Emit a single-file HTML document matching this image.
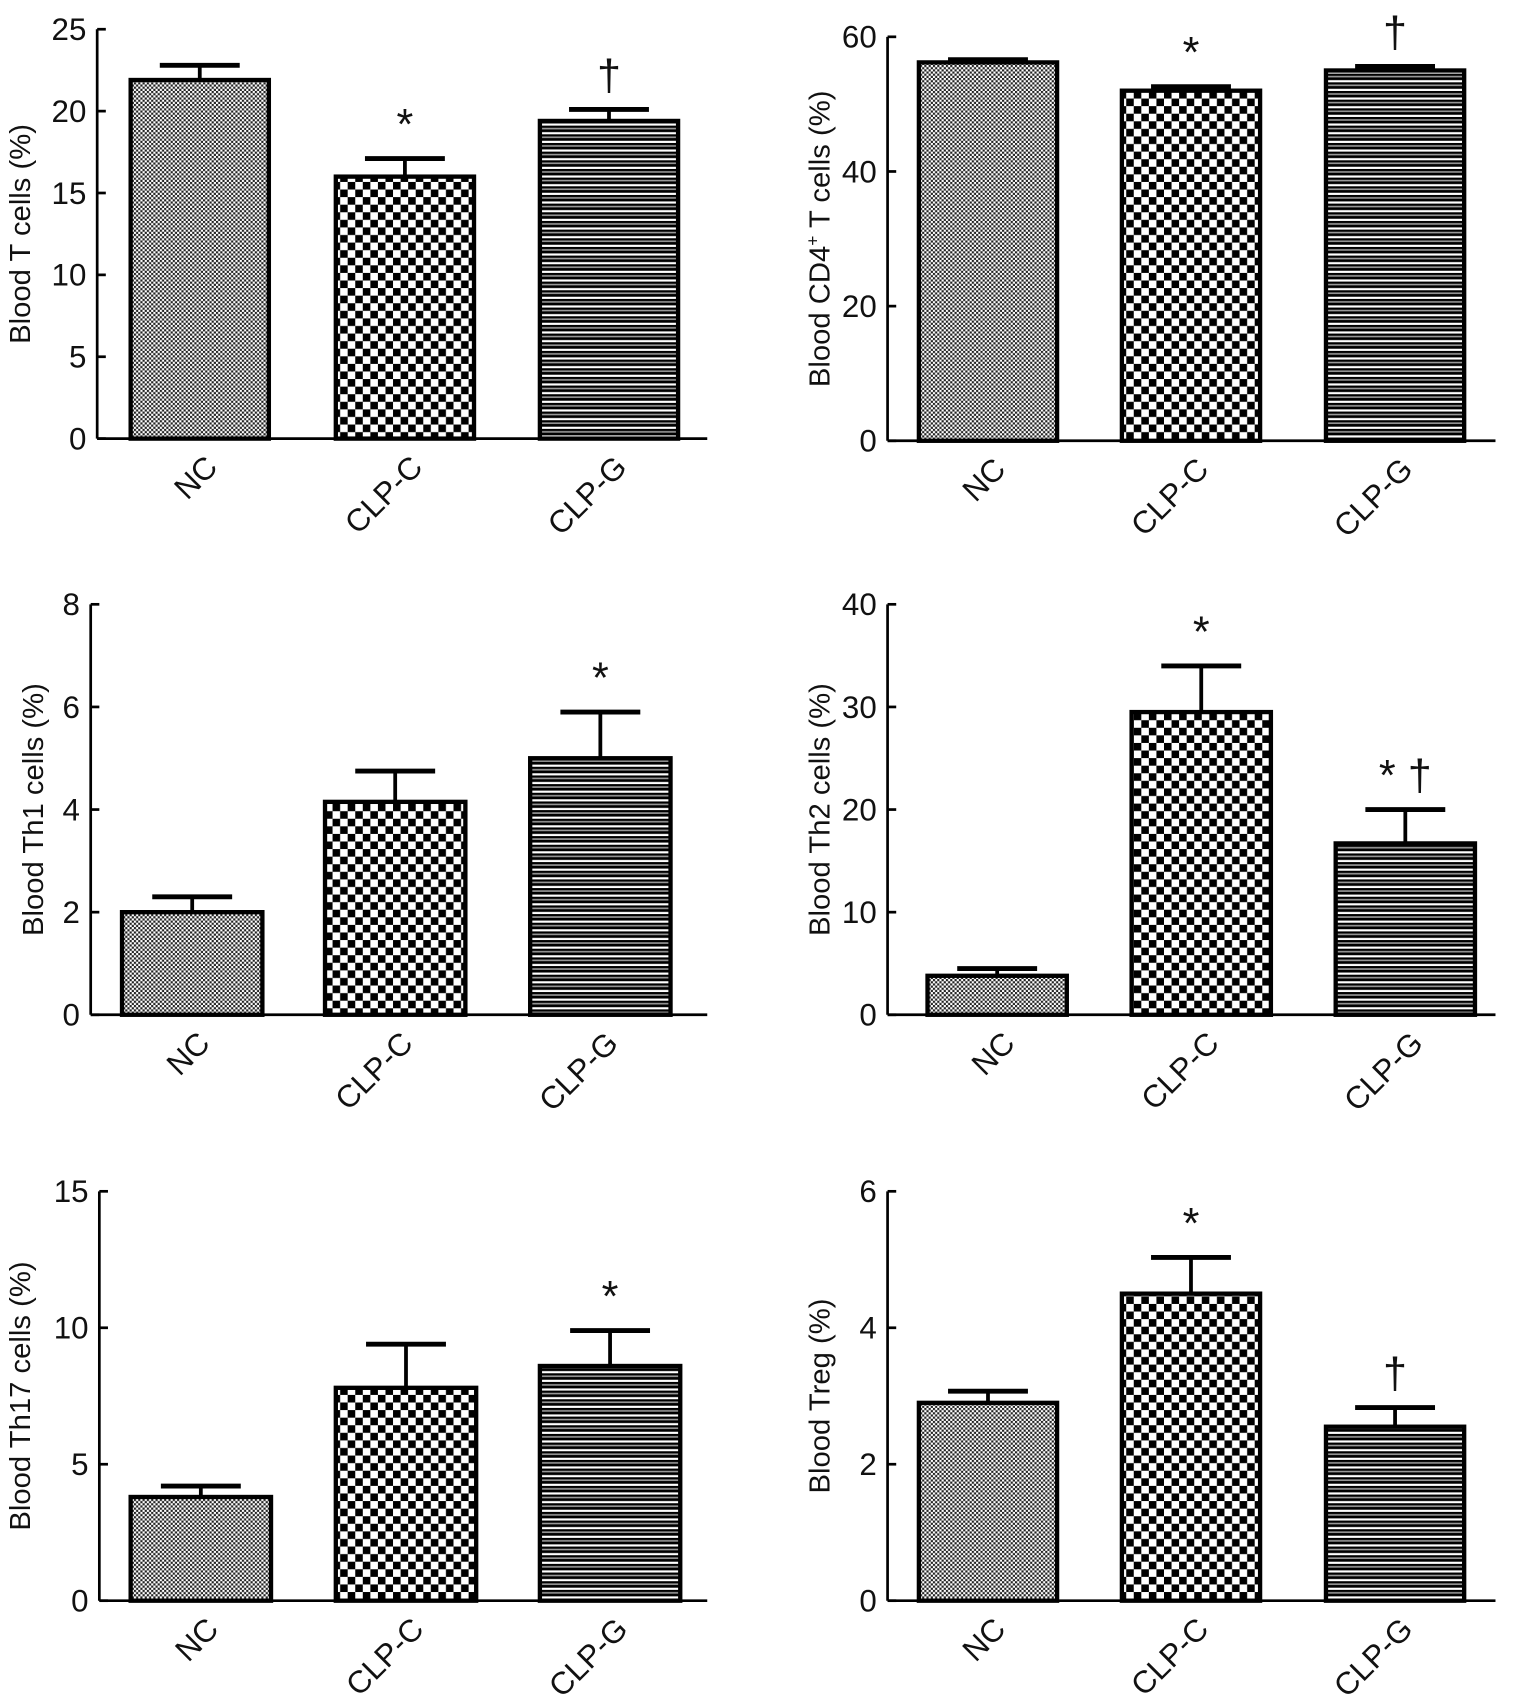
<!DOCTYPE html>
<html><head><meta charset="utf-8"><style>
html,body{margin:0;padding:0;background:#fff;}
svg{display:block;}
text{font-family:"Liberation Sans",Arial,sans-serif;fill:#111;}
</style></head><body>
<svg id="fig" width="1516" height="1696" viewBox="0 0 1404 1566" preserveAspectRatio="none" xmlns="http://www.w3.org/2000/svg">
<defs>
<pattern id="pNC" width="4" height="4" patternUnits="userSpaceOnUse"><rect width="4" height="4" fill="#fff"/><rect width="2" height="2" fill="#222"/><rect x="2" y="2" width="2" height="2" fill="#222"/></pattern>
<pattern id="pC" width="14" height="14" patternUnits="userSpaceOnUse"><rect width="14" height="14" fill="#fff"/><rect width="7" height="7" fill="#000"/><rect x="7" y="7" width="7" height="7" fill="#000"/></pattern>
<pattern id="pG" width="8" height="8" patternUnits="userSpaceOnUse"><rect width="8" height="8" fill="#000"/><rect y="2" width="8" height="2" fill="#fff"/><rect y="6" width="8" height="1.5" fill="#999"/></pattern>
</defs>
</svg>
<script>
const categories = ["NC","CLP-C","CLP-G"];
const titles = ["Blood T cells (%)","Blood CD4+ T cells (%)","Blood Th1 cells (%)","Blood Th2 cells (%)","Blood Th17 cells (%)","Blood Treg (%)"];
const means = [[21.9,16.0,19.4],[56.2,52.0,55.0],[2.0,4.15,5.0],[3.8,29.5,16.7],[3.8,7.8,8.6],[2.9,4.5,2.55]];
const errs = [[0.9,1.1,0.7],[0.4,0.6,0.6],[0.3,0.6,0.9],[0.7,4.5,3.3],[0.4,1.6,1.3],[0.17,0.53,0.28]];
const yMaxes = [25,60,8,40,15,6];
const tickSteps = [5,20,2,10,5,2];
const marks = [["","*","†"],["","*","†"],["","","*"],["","*","* †"],["","","*"],["","*","†"]];
// layout
const panels = [
 {ax:90,top:27,zero:405,xend:655,bx:[121,311,500],bw:128,lx:12},
 {ax:822,top:34,zero:407,xend:1385,bx:[851,1039,1228],bw:128,lx:752},
 {ax:84,top:558,zero:937,xend:655,bx:[113,301,491],bw:130,lx:24},
 {ax:822,top:558,zero:937,xend:1385,bx:[859,1048,1237],bw:129,lx:752},
 {ax:92,top:1100,zero:1478,xend:655,bx:[121,311,500],bw:130,lx:12},
 {ax:822,top:1100,zero:1478,xend:1385,bx:[851,1039,1228],bw:128,lx:752}
];
const fills=["url(#pNC)","url(#pC)","url(#pG)"];
const svg=document.getElementById('fig');
const NS="http://www.w3.org/2000/svg";
function mk(tag,attrs,parent){const e=document.createElementNS(NS,tag);for(const k in attrs)e.setAttribute(k,attrs[k]);(parent||svg).appendChild(e);return e;}
panels.forEach((p,i)=>{
 const g=mk('g',{});
 
 
 const y=v=>p.zero-(v/yMaxes[i])*(p.zero-p.top);
 const ya=mk('line',{x1:p.ax,y1:p.top,x2:p.ax,y2:p.zero,stroke:'#000','stroke-width':2.5},g);
 
 
 const xa=mk('line',{x1:p.ax,y1:p.zero,x2:p.xend,y2:p.zero,stroke:'#000','stroke-width':2.5},g);
 
 
 for(let v=0;v<=yMaxes[i]+1e-9;v+=tickSteps[i]){
  mk('line',{x1:p.ax,y1:y(v),x2:p.ax+8,y2:y(v),stroke:'#000','stroke-width':2.5},g);
  const t=mk('text',{x:p.ax-10,y:y(v)+10,'text-anchor':'end','font-size':29},g);
  t.textContent=v;
  
  
 }
 const cy=(p.top+p.zero)/2;
 const yt=mk('text',{x:0,y:0,'text-anchor':'middle','font-size':27,transform:`translate(${p.lx+16},${cy}) rotate(-90)`},g);
 
 
 if(i===1){yt.innerHTML='Blood CD4<tspan dy="-10" font-size="16">+</tspan><tspan dy="10"> T cells (%)</tspan>';}
 else yt.textContent=titles[i];
 categories.forEach((c,j)=>{
  const x0=p.bx[j],w=p.bw,cx=x0+w/2,top=y(means[i][j]),et=y(means[i][j]+errs[i][j]);
  mk('line',{x1:cx,y1:top,x2:cx,y2:et,stroke:'#000','stroke-width':3.5},g);
  mk('line',{x1:cx-37,y1:et,x2:cx+37,y2:et,stroke:'#000','stroke-width':4.5},g);
  const r=mk('rect',{x:x0,y:top,width:w,height:p.zero-top,fill:fills[j],stroke:'#000','stroke-width':4},g);
  
  
  const lt=mk('text',{x:0,y:0,'text-anchor':'end','font-size':29,transform:`translate(${cx+18},${p.zero+28}) rotate(-45)`},g);
  lt.textContent=c;
  
  
  const m=marks[i][j];
  if(m){
   const mt=mk('text',{x:cx,y:et-18,'text-anchor':'middle','font-size':40},g);
   mt.textContent=m;
   
   
  }
 });
});
</script>
</body></html>
